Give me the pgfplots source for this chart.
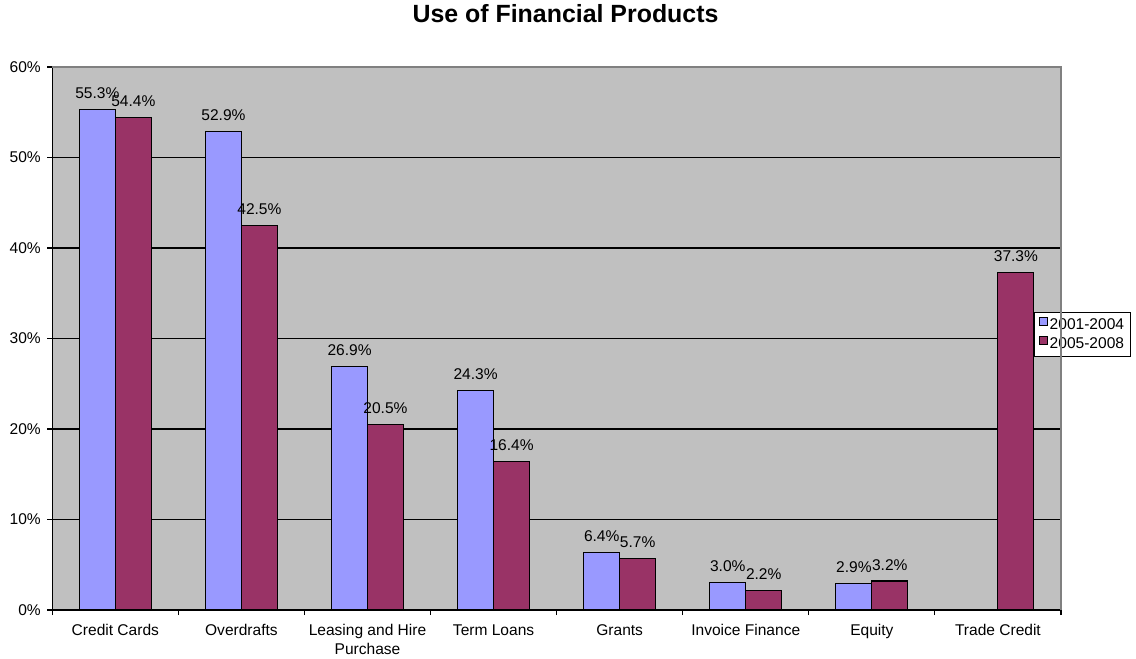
\documentclass[border=0pt]{standalone}
\usepackage{fontspec}
\setmainfont{Liberation Sans}
\usepackage{pgfplots}
\pgfplotsset{compat=1.18}
\definecolor{barblue}{HTML}{9999FF}
\definecolor{barred}{HTML}{993366}
\definecolor{plotgray}{HTML}{C0C0C0}
\newcommand{\lbl}{\fontsize{15.6}{18.5}\selectfont}
\begin{document}
\begin{tikzpicture}
\begin{axis}[
  name=ax,
  at={(0,0)}, anchor=south west,
  scale only axis,
  width=1008.7bp, height=543bp,
  ybar=0pt, bar width=0.285,
  xmin=-0.5, xmax=7.5,
  ymin=0, ymax=60,
  xtick={-0.5,0.5,...,7.5},
  x tick label as interval,
  xticklabels={Credit Cards,Overdrafts,{Leasing and Hire\\Purchase},Term Loans,Grants,Invoice Finance,Equity,Trade Credit},
  x tick label style={align=center, font=\lbl, yshift=-6bp},
  ytick={0,10,...,60},
  yticklabel={\pgfmathprintnumber{\tick}\%},
  y tick label style={font=\lbl, xshift=-3bp},
  /pgf/number format/assume math mode=true,
  axis x line*=bottom, axis y line*=left,
  axis line style={black,-, line width=1.1bp},
  ymajorgrids,
  major grid style={black, line width=1.1bp},
  tick align=outside, major tick length=5bp,
  tick style={black, line width=1.1bp},
  axis background/.style={fill=plotgray},
  nodes near coords={\pgfmathprintnumber[fixed,fixed zerofill,precision=1]{\pgfplotspointmeta}\%},
  every node near coord/.append style={font=\lbl, anchor=base, inner sep=0pt, yshift=11bp},
  legend style={at={(0.9735,0.549)}, anchor=north west, draw=black, fill=white,
    font=\lbl, inner xsep=4bp, inner ysep=4bp, row sep=3bp, cells={anchor=west},
    line width=1bp},
  legend image code/.code={\draw[#1, line width=1bp] (0bp,-0.5bp) rectangle (8bp,7.5bp);},
]
\addplot[fill=barblue, draw=black, line width=1.1bp] coordinates {(0,55.3) (1,52.9) (2,26.9) (3,24.3) (4,6.4) (5,3.0) (6,2.9)};
\addplot[fill=barred, draw=black, line width=1.1bp] coordinates {(0,54.4) (1,42.5) (2,20.5) (3,16.4) (4,5.7) (5,2.2) (6,3.2) (7,37.3)};
\legend{2001-2004,2005-2008}
\end{axis}
\draw[gray, line width=1.3bp] (ax.north west) -- (ax.north east) -- (ax.south east);
\node[font=\fontsize{25}{30}\selectfont\bfseries, anchor=base] at ([shift={(513.2bp,44bp)}]ax.north west) {Use of Financial Products};
\pgfresetboundingbox
\path[use as bounding box] ([shift={(-52.3bp,-49bp)}]ax.south west) rectangle ([shift={(1083.7bp,610bp)}]ax.south west);
\end{tikzpicture}
\end{document}
